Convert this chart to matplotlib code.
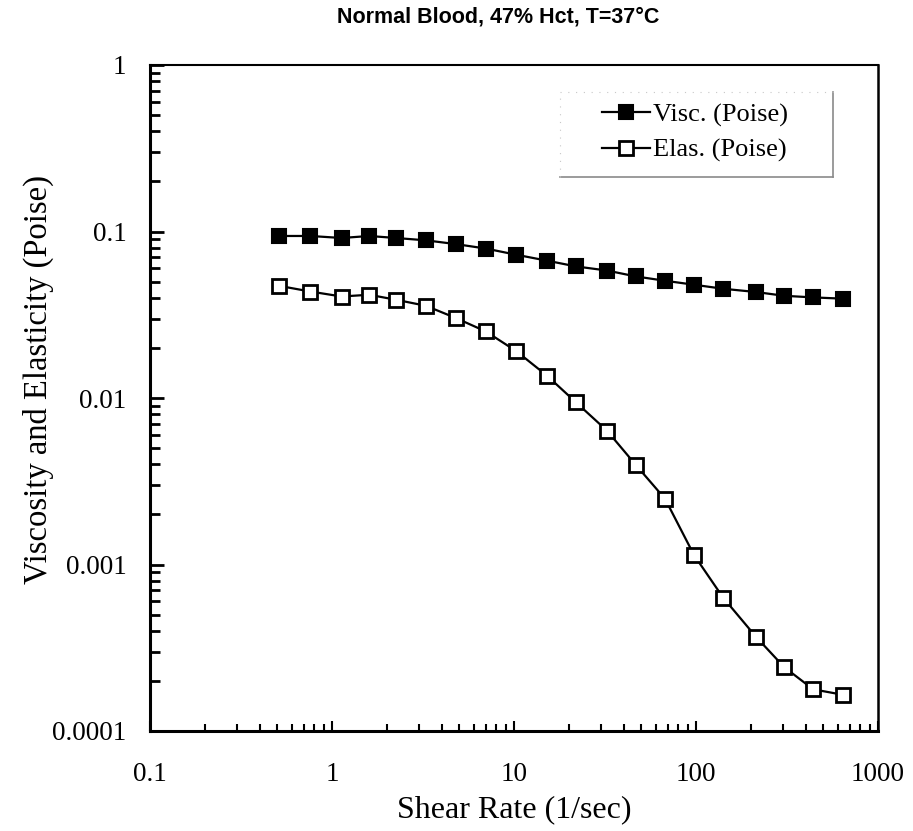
import matplotlib
matplotlib.use("Agg")
import matplotlib.pyplot as plt
from matplotlib.ticker import LogLocator, FixedLocator, FixedFormatter, NullFormatter

shear_rate = [0.51, 0.76, 1.13, 1.6, 2.25, 3.28, 4.8, 7.0, 10.3, 15.2,
              21.9, 32.4, 46.8, 67.6, 97.5, 141, 214, 305, 440, 642]
visc = [0.094, 0.094, 0.0914, 0.094, 0.0914, 0.0885, 0.084, 0.079, 0.0725, 0.0668,
        0.0617, 0.0583, 0.0537, 0.0506, 0.0479, 0.0453, 0.0433, 0.0411, 0.0402, 0.0395]
elas = [0.0472, 0.0436, 0.0407, 0.0417, 0.0389, 0.0358, 0.0302, 0.0251, 0.0191, 0.0136,
        0.00942, 0.00637, 0.00395, 0.00248, 0.00114, 0.000632, 0.000367, 0.000242, 0.000178, 0.000165]

x_ticks = [0.1, 1, 10, 100, 1000]
x_tick_labels = ["0.1", "1", "10", "100", "1000"]
y_ticks = [0.0001, 0.001, 0.01, 0.1, 1]
y_tick_labels = ["0.0001", "0.001", "0.01", "0.1", "1"]

title = "Normal Blood, 47% Hct, T=37\u00b0C"
xlabel = "Shear Rate (1/sec)"
ylabel = "Viscosity and Elasticity (Poise)"
series_names = ["Visc. (Poise)", "Elas. (Poise)"]

serif = ["Liberation Serif", "DejaVu Serif"]

fig = plt.figure(figsize=(9.13, 8.31), dpi=100)
ax = fig.add_axes([150/913, 1 - 731/831, 728/913, 666/831])

ax.plot(shear_rate, visc, color="black", lw=1.6, marker="s", ms=10,
        mfc="black", mec="black", mew=1.5, label=series_names[0])
ax.plot(shear_rate, elas, color="black", lw=1.6, marker="s", ms=10,
        mfc="white", mec="black", mew=2.0, label=series_names[1])

ax.set_xscale("log")
ax.set_yscale("log")
ax.set_xlim(0.1, 1000)
ax.set_ylim(0.0001, 1)

ax.xaxis.set_major_locator(FixedLocator(x_ticks))
ax.xaxis.set_major_formatter(FixedFormatter(x_tick_labels))
ax.yaxis.set_major_locator(FixedLocator(y_ticks))
ax.yaxis.set_major_formatter(FixedFormatter(y_tick_labels))
ax.xaxis.set_minor_locator(LogLocator(base=10, subs=range(2, 10), numticks=20))
ax.yaxis.set_minor_locator(LogLocator(base=10, subs=range(2, 10), numticks=20))
ax.xaxis.set_minor_formatter(NullFormatter())
ax.yaxis.set_minor_formatter(NullFormatter())

ax.tick_params(axis="both", which="both", direction="in", top=False, right=False, color="black")
ax.tick_params(axis="y", which="major", length=10, width=2, pad=17)
ax.tick_params(axis="y", which="minor", length=7, width=2)
ax.tick_params(axis="x", which="major", length=7, width=1.5, pad=22)
ax.tick_params(axis="x", which="minor", length=5, width=1.5)

for lab in ax.get_xticklabels() + ax.get_yticklabels():
    lab.set_fontfamily(serif)
    lab.set_fontsize(19.5)

for side in ["left", "bottom"]:
    ax.spines[side].set_linewidth(2.2)
ax.spines["top"].set_linewidth(1.5)
ax.spines["right"].set_linewidth(1.8)

ax.set_xlabel(xlabel, fontfamily=serif, fontsize=23)
ax.set_ylabel(ylabel, fontfamily=serif, fontsize=23.5)
ax.xaxis.label.set_va("center")
ax.yaxis.label.set_va("center")
ax.xaxis.set_label_coords(0.5, (731 - 810) / 666)
ax.yaxis.set_label_coords((38 - 150) / 728, (731 - 379) / 666)

fig.text(498/913, 1 - 17/831, title, ha="center", va="center",
         fontfamily=["Liberation Sans", "DejaVu Sans"], fontweight="bold", fontsize=15.5)

leg = ax.legend(loc="center left", bbox_to_anchor=((602 - 150) / 728, (731 - 132.5) / 666),
                frameon=False, prop={"family": serif, "size": 19},
                handlelength=1.8, handletextpad=0.15, borderpad=0, labelspacing=0.45,
                borderaxespad=0)

# legend frame: grey right/bottom edges, faint top/left edges
fx0, fx1 = (560 - 150) / 728, (833 - 150) / 728
fy0, fy1 = (731 - 177) / 666, (731 - 92) / 666
ax.plot([fx1, fx1], [fy0, fy1], transform=ax.transAxes, color="#8a8a8a", lw=1.2, clip_on=False)
ax.plot([fx0, fx1], [fy0, fy0], transform=ax.transAxes, color="#8a8a8a", lw=1.2, clip_on=False)
ax.plot([fx0, fx1], [fy1, fy1], transform=ax.transAxes, color="#c8c8c8", lw=0.8, ls=(0, (1, 6)), clip_on=False)
ax.plot([fx0, fx0], [fy0, fy1], transform=ax.transAxes, color="#c8c8c8", lw=0.8, ls=(0, (1, 6)), clip_on=False)

fig.savefig("out.png", dpi=100)
